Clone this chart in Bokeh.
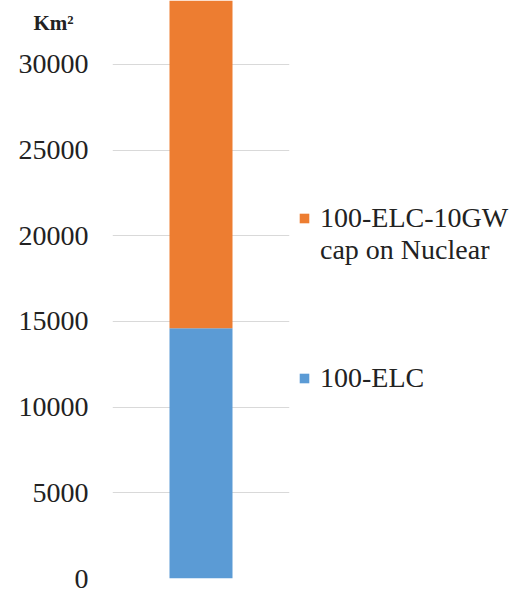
from bokeh.plotting import figure
from bokeh.models import (FactorRange, Range1d, SingleIntervalTicker, FixedTicker,
                          LinearAxis, Legend, LegendItem, ColumnDataSource)
from bokeh.embed import file_html
from bokeh.resources import INLINE

# Land area needed per scenario (km²), stacked in one column
categories = ["Land use"]
series_names = ["100-ELC", "100-ELC-10GW", "cap on Nuclear"]
elc_100 = [14600]
elc_10gw_cap = [21000]
y_max = 33735
unit_caption = "Km²"

FONT = "Liberation Serif"
TEXT = "#222222"
BLUE = "#5B9BD5"
ORANGE = "#ED7D31"
UNIT_LABEL_AT = 32450  # height on the value axis where the unit caption sits

source = ColumnDataSource(dict(cat=categories, elc=elc_100, cap=elc_10gw_cap))

p = figure(x_range=FactorRange(factors=categories, range_padding=0),
           y_range=Range1d(0, y_max),
           frame_width=177, frame_height=578,
           min_border_left=112, min_border_right=0,
           min_border_top=0, min_border_bottom=16,
           output_backend="svg", toolbar_location=None)

renderers = p.vbar_stack(["elc", "cap"], x="cat", width=0.356,
                         color=[BLUE, ORANGE], line_color=None, source=source)

p.outline_line_color = None
p.xaxis.visible = False
p.xgrid.visible = False
p.ygrid.grid_line_color = "#d9d9d9"
p.ygrid.grid_line_width = 1

ax = p.yaxis[0]
ax.ticker = SingleIntervalTicker(interval=5000)
ax.axis_line_color = None
ax.major_tick_line_color = None
ax.minor_tick_line_color = None
ax.major_tick_out = 0
ax.minor_tick_out = 0
ax.major_label_standoff = 24
ax.major_label_text_font = FONT
ax.major_label_text_font_size = "28px"
ax.major_label_text_color = TEXT
p.ygrid.ticker = ax.ticker

# Unit caption in the top-left corner: a bare axis with a single
# relabelled tick, pulled inwards so it sits above the tick labels
unit_axis = LinearAxis(ticker=FixedTicker(ticks=[UNIT_LABEL_AT]),
                       major_label_overrides={UNIT_LABEL_AT: unit_caption},
                       major_label_standoff=-58,
                       major_label_text_font=FONT, major_label_text_font_size="21px",
                       major_label_text_font_style="bold",
                       major_label_text_color=TEXT,
                       axis_line_color=None, major_tick_line_color=None,
                       minor_tick_line_color=None, major_tick_out=0, minor_tick_out=0)
p.add_layout(unit_axis, "left")

legend = Legend(items=[LegendItem(label=series_names[1], renderers=[renderers[1]]),
                       LegendItem(label=series_names[2] + "\n\n\n\n", renderers=[]),
                       LegendItem(label=series_names[0], renderers=[renderers[0]])],
                location=(9, 184), orientation="vertical",
                glyph_width=12, glyph_height=12, label_standoff=10,
                spacing=0, padding=0, margin=0,
                border_line_color=None, background_fill_alpha=0,
                label_text_font=FONT, label_text_font_size="28px",
                label_text_color=TEXT, label_text_line_height=1.1)
p.add_layout(legend, "right")

open("out.html", "w").write(file_html(p, INLINE))
